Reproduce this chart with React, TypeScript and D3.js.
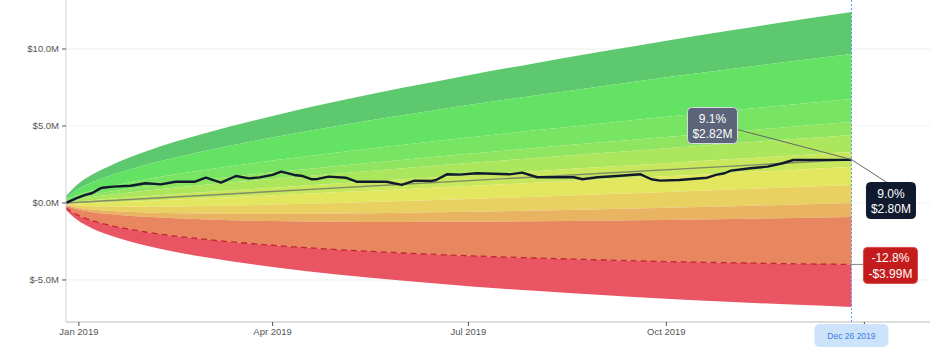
import * as d3 from "d3";

// realised P&L path ($M)
const pnlDates = [
  "2018-12-26", "2018-12-31", "2019-01-04", "2019-01-07", "2019-01-11", "2019-01-12",
  "2019-01-17", "2019-01-25", "2019-02-01", "2019-02-08", "2019-02-15", "2019-02-24",
  "2019-03-01", "2019-03-08", "2019-03-15", "2019-03-21", "2019-03-26", "2019-04-01",
  "2019-04-05", "2019-04-11", "2019-04-15", "2019-04-19", "2019-04-22", "2019-04-27",
  "2019-05-05", "2019-05-10", "2019-05-24", "2019-05-31", "2019-06-06", "2019-06-14",
  "2019-06-16", "2019-06-21", "2019-06-27", "2019-07-05", "2019-07-20", "2019-07-26",
  "2019-08-02", "2019-08-19", "2019-08-23", "2019-08-30", "2019-09-08", "2019-09-19",
  "2019-09-24", "2019-09-28", "2019-10-07", "2019-10-20", "2019-10-24", "2019-10-28",
  "2019-10-31", "2019-11-09", "2019-11-17", "2019-11-24", "2019-11-29", "2019-12-26",
];
const pnlValues = [
  0, 0.31, 0.52, 0.63, 0.95, 0.99,
  1.06, 1.12, 1.28, 1.21, 1.38, 1.38,
  1.64, 1.32, 1.75, 1.6, 1.66, 1.82,
  2.03, 1.82, 1.75, 1.54, 1.56, 1.71,
  1.64, 1.38, 1.38, 1.17, 1.45, 1.43,
  1.49, 1.86, 1.84, 1.93, 1.86, 1.97,
  1.67, 1.67, 1.54, 1.67, 1.75, 1.86,
  1.54, 1.45, 1.49, 1.64, 1.82, 1.93,
  2.1, 2.25, 2.36, 2.58, 2.79, 2.8,
];

// outer edge of the fan (top band) read at dates ($M)
const spreadDates = [
  "2018-12-26", "2018-12-28", "2018-12-31", "2019-01-07", "2019-01-15", "2019-02-01",
  "2019-03-01", "2019-04-01", "2019-05-01", "2019-06-01", "2019-07-01", "2019-08-01",
  "2019-09-01", "2019-10-01", "2019-11-01", "2019-12-01", "2019-12-26",
];
const spreadUpper = [
  0.45, 0.75, 1.16, 1.83, 2.39, 3.34,
  4.54, 5.65, 6.6, 7.49, 8.3, 9.08,
  9.83, 10.54, 11.23, 11.88, 12.4,
];

// band boundaries at the final date, top to bottom ($M)
const bandEdgesEnd = [12.4, 9.68, 6.75, 5.26, 4.42, 3.31, 2.34, 1.17, 0.0, -0.91, -3.99, -6.75];
const bandColors = [
  "#5ec86f", "#64e264", "#78e463", "#8fe55f", "#abe65d", "#c7e75c",
  "#e3e65f", "#e9d161", "#e9b462", "#e8865f", "#e95563",
];
const trendEnd = 2.82;
const worstIndex = 10; // dashed edge

const yTicks = [-5, 0, 5, 10];
const expectedLabel = ["9.1%", "$2.82M"];
const actualLabel = ["9.0%", "$2.80M"];
const worstLabel = ["-12.8%", "-$3.99M"];
const markerLabel = "Dec 26 2019";

const parse = d3.timeParse("%Y-%m-%d");

export default function App() {
  const W = 940;
  const H = 354;
  const left = 66;
  const right = 930;
  const top = 0;
  const bottom = 322;
  const font = "'Liberation Sans', Arial, Helvetica, sans-serif";

  const pnl = pnlDates.map((d, i) => ({ date: parse(d) as Date, v: pnlValues[i] }));
  const sDates = spreadDates.map((d) => parse(d) as Date);
  const t0 = sDates[0];
  const tEnd = sDates[sDates.length - 1];

  const x = d3
    .scaleTime()
    .domain([t0, new Date(2020, 0, 31, 12)])
    .range([left, right]);
  const y = d3.scaleLinear().domain([-7.73, 13.18]).range([bottom, top]);

  const trendAt = (d: Date) =>
    (trendEnd * (d.getTime() - t0.getTime())) / (tEnd.getTime() - t0.getTime());
  const upperEnd = spreadUpper[spreadUpper.length - 1];
  const ratios = bandEdgesEnd.map((e) => (e - trendEnd) / (upperEnd - trendEnd));
  const edge = (k: number, i: number) => {
    const tr = trendAt(sDates[i]);
    return tr + ratios[k] * (spreadUpper[i] - tr);
  };
  const idx = d3.range(sDates.length);

  const bandArea = (k: number) =>
    d3
      .area<number>()
      .x((i) => x(sDates[i]))
      .y0((i) => y(edge(k + 1, i)))
      .y1((i) => y(edge(k, i)))
      .curve(d3.curveMonotoneX)(idx) as string;

  const worstLine = d3
    .line<number>()
    .x((i) => x(sDates[i]))
    .y((i) => y(edge(worstIndex, i)))
    .curve(d3.curveMonotoneX)(idx) as string;

  const pnlLine = d3
    .line<{ date: Date; v: number }>()
    .x((d) => x(d.date))
    .y((d) => y(d.v))(pnl) as string;

  const xEnd = x(tEnd);
  const yTrendEnd = y(trendEnd);
  const yWorstEnd = y(bandEdgesEnd[worstIndex]);
  const xTicks = x.ticks(d3.timeMonth.every(3) as d3.TimeInterval);
  const fmtX = d3.timeFormat("%b %Y");

  const box = (
    cx: number,
    cy: number,
    w: number,
    lines: string[],
    fill: string,
    stroke: string
  ) => (
    <g>
      <rect x={cx - w / 2} y={cy - 18} width={w} height={36} rx={4} fill={fill} stroke={stroke} strokeWidth={1} />
      <text x={cx} y={cy - 3} textAnchor="middle" fill="#fff" fontSize={12} fontFamily={font}>
        {lines[0]}
      </text>
      <text x={cx} y={cy + 12.5} textAnchor="middle" fill="#fff" fontSize={12} fontFamily={font}>
        {lines[1]}
      </text>
    </g>
  );

  const expC = { x: xEnd - 139, y: yTrendEnd - 34 };
  const actC = { x: xEnd + 39.5, y: yTrendEnd + 41 };
  const worC = { x: xEnd + 39, y: yWorstEnd + 1 };

  return (
    <svg
      width={W}
      height={H}
      style={{ position: "absolute", left: 0, top: 0, background: "#fff" }}
    >
      {/* grid */}
      {yTicks.map((t) => (
        <line key={t} x1={left} x2={right} y1={y(t)} y2={y(t)} stroke="#efefef" strokeWidth={1} />
      ))}

      {/* fan bands */}
      {bandColors.map((c, k) => (
        <path key={k} d={bandArea(k)} fill={c} />
      ))}

      {/* expected trend */}
      <line
        x1={x(t0)}
        y1={y(0)}
        x2={xEnd}
        y2={yTrendEnd}
        stroke="#6b6b6b"
        strokeOpacity={0.75}
        strokeWidth={1.4}
      />
      <path d={worstLine} fill="none" stroke="#c4262a" strokeWidth={1.3} strokeDasharray="6,4" />
      <path d={pnlLine} fill="none" stroke="#111a2c" strokeWidth={2.4} strokeLinejoin="round" />

      {/* axes */}
      <line x1={left} x2={left} y1={top} y2={bottom} stroke="#d4d4d4" strokeWidth={1} />
      {yTicks.map((t) => (
        <g key={t}>
          <line x1={left - 4} x2={left} y1={y(t)} y2={y(t)} stroke="#555" strokeWidth={1} />
          <text
            x={left - 7}
            y={y(t) + 3.5}
            textAnchor="end"
            fontSize={9.5}
            fill="#555"
            fontFamily={font}
          >
            {`$${t.toFixed(1)}M`}
          </text>
        </g>
      ))}
      <line x1={left} x2={right} y1={bottom} y2={bottom} stroke="#d0d0d0" strokeWidth={1.5} />
      {xTicks.map((t) => (
        <g key={t.getTime()}>
          <line x1={x(t)} x2={x(t)} y1={bottom} y2={bottom + 4} stroke="#555" strokeWidth={1} />
          {t <= tEnd && (
            <text x={x(t)} y={bottom + 13} textAnchor="middle" fontSize={9.5} fill="#555" fontFamily={font}>
              {fmtX(t)}
            </text>
          )}
        </g>
      ))}

      {/* marker at last date */}
      <line x1={xEnd} x2={xEnd} y1={top} y2={bottom + 2} stroke="#5b9bef" strokeWidth={1} strokeDasharray="2,2" />
      <rect x={xEnd - 37} y={bottom + 2} width={74} height={23} rx={5} fill="#cde2fb" />
      <text x={xEnd} y={bottom + 17} textAnchor="middle" fontSize={8.5} fill="#3d7fe0" fontFamily={font}>
        {markerLabel}
      </text>

      {/* callout connectors */}
      <line x1={expC.x + 25} y1={expC.y + 4} x2={xEnd} y2={yTrendEnd} stroke="#666" strokeWidth={1} />
      <line x1={xEnd} y1={yTrendEnd} x2={actC.x - 4} y2={actC.y - 18} stroke="#666" strokeWidth={1} />
      <line x1={xEnd} y1={yWorstEnd} x2={worC.x - 27} y2={yWorstEnd} stroke="#888" strokeWidth={1} />

      {box(expC.x, expC.y, 50, expectedLabel, "#5b6478", "#d9dde4")}
      {box(actC.x, actC.y, 49, actualLabel, "#101a2e", "#101a2e")}
      {box(worC.x, worC.y, 54, worstLabel, "#c41c1c", "#d94a4a")}
    </svg>
  );
}
